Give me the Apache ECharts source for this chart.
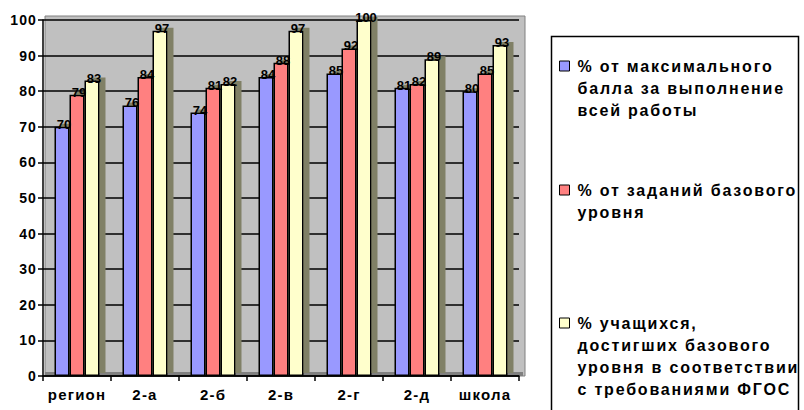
<!DOCTYPE html>
<html>
<head>
<meta charset="utf-8">
<script src="https://cdn.jsdelivr.net/npm/echarts@6/dist/echarts.min.js"></script>
<style>
html,body{margin:0;padding:0;background:#fff;}
#c{width:804px;height:410px;}
#c svg text[style*="14px"]{letter-spacing:1.1px;}
#c svg text[style*="15px"]{letter-spacing:1.2px;}
#c svg text[style*="16px"]{letter-spacing:1.8px;}
</style>
</head>
<body>
<div id="c"></div>
<script>
const categories = ['регион', '2-а', '2-б', '2-в', '2-г', '2-д', 'школа'];
const seriesNames = [
  '% от максимального\nбалла за выполнение\nвсей работы',
  '% от заданий базового\nуровня',
  '% учащихся,\nдостигших базового\nуровня в соответствии\nс требованиями ФГОС'
];
const valuesMax = [70, 76, 74, 84, 85, 81, 80];
const valuesBase = [79, 84, 81, 88, 92, 82, 85];
const valuesFgos = [83, 97, 82, 97, 100, 89, 93];
const yTicks = [0, 10, 20, 30, 40, 50, 60, 70, 80, 90, 100];

const colors = ['#9999FF', '#FF8080', '#FFFFCC'];
const FONT = 'Liberation Sans, Arial, sans-serif';
const chart = echarts.init(document.getElementById('c'), null, {renderer: 'svg'});

const allValues = [valuesMax, valuesBase, valuesFgos];
const series = allValues.map((vals, i) => ({
  name: seriesNames[i],
  type: 'bar',
  data: vals,
  barWidth: 15,
  barGap: '0%',
  itemStyle: {
    color: colors[i],
    borderColor: '#000',
    borderWidth: 1.5,
    shadowColor: '#808066',
    shadowBlur: 0,
    shadowOffsetX: 6,
    shadowOffsetY: -3
  },
  label: {
    show: true,
    position: 'top',
    distance: 0,
    offset: [2, 4],
    color: '#000',
    fontFamily: FONT,
    fontWeight: 'bold',
    fontSize: 13
  },
  emphasis: {disabled: true}
}));

function legendFor(i, top) {
  const n = seriesNames[i].split('\n').length;
  return {
    data: [seriesNames[i]],
    left: 559,
    top: top,
    orient: 'vertical',
    padding: 0,
    icon: 'rect',
    itemWidth: 10,
    itemHeight: 10,
    itemStyle: {borderColor: '#000', borderWidth: 1},
    selectedMode: false,
    formatter: function (name) {
      return '\n'.repeat(n - 1) + name;
    },
    textStyle: {
      fontFamily: FONT,
      fontWeight: 'bold',
      fontSize: 16,
      lineHeight: 22,
      color: '#000',
      padding: [0, 0, 0, 3]
    }
  };
}

chart.setOption({
  animation: false,
  backgroundColor: '#fff',
  color: colors,
  grid: {left: 43, right: 285, top: 20, bottom: 34, show: false},
  graphic: [
    {type: 'rect', z: -10, shape: {x: 45, y: 16, width: 480, height: 360},
     style: {fill: '#C0C0C0', stroke: '#808080', lineWidth: 1}},
    {type: 'rect', z: -9, shape: {x: 45, y: 372, width: 478, height: 4},
     style: {fill: '#808080'}},
    {type: 'rect', z: -5, shape: {x: 551.5, y: 36.5, width: 247, height: 400},
     style: {fill: 'none', stroke: '#000', lineWidth: 1.5}}
  ],
  legend: [legendFor(0, 11), legendFor(1, 157), legendFor(2, 246)],
  xAxis: {
    type: 'category',
    data: categories,
    axisLine: {show: true, lineStyle: {color: '#000', width: 1.5}},
    axisTick: {show: true, length: 5, lineStyle: {color: '#000', width: 1.5}},
    axisLabel: {color: '#000', fontFamily: FONT, fontWeight: 'bold', fontSize: 15, margin: 11},
    splitLine: {show: false}
  },
  yAxis: {
    type: 'value',
    min: yTicks[0],
    max: yTicks[yTicks.length - 1],
    interval: 10,
    axisLine: {show: true, lineStyle: {color: '#000', width: 1.5}},
    axisTick: {show: true, length: 5, lineStyle: {color: '#000', width: 1.5}},
    axisLabel: {color: '#000', fontFamily: FONT, fontWeight: 'bold', fontSize: 14, margin: 6},
    splitLine: {show: true, lineStyle: {color: '#000', width: 1.5}}
  },
  series: series
});
</script>
</body>
</html>
